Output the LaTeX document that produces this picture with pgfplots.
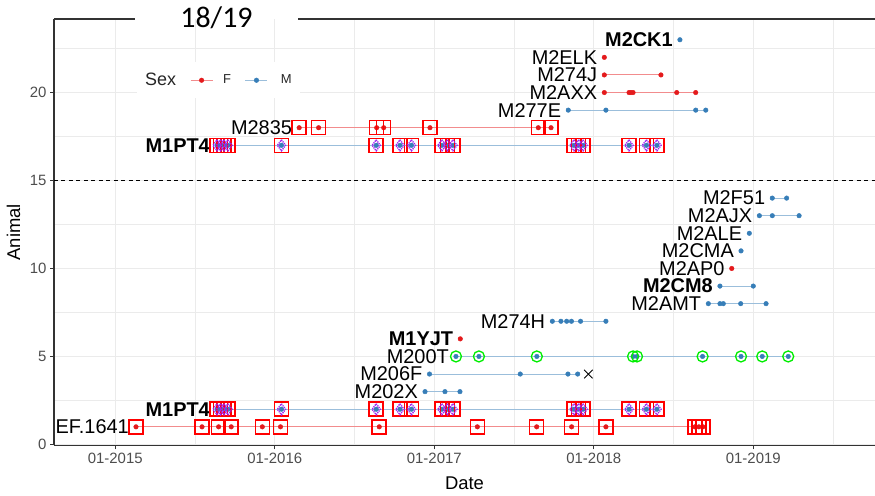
\documentclass[border=0pt]{standalone}
\usepackage{pgfplots}
\pgfplotsset{compat=1.18}
\usepackage{fontspec}
\setmainfont{Liberation Sans}
\newfontfamily\calibri{Carlito}
\definecolor{Fred}{HTML}{E41A1C}
\definecolor{Mblue}{HTML}{377EB8}
\colorlet{Fline}{Fred!50!white}
\colorlet{Mline}{Mblue!50!white}
\definecolor{gridc}{HTML}{EBEBEB}
\definecolor{tickc}{HTML}{4D4D4D}
\definecolor{axc}{HTML}{333333}
\definecolor{boxred}{HTML}{FF0000}
\definecolor{diam}{HTML}{A020F0}
\definecolor{grn}{HTML}{00EE00}
\pgfplotsset{
  Fser/.style={draw=Fline, line width=1bp, mark=*, mark size=2.3bp, mark options={fill=Fred, draw=Fred, solid, line width=0.4bp}},
  Mser/.style={draw=Mline, line width=1bp, mark=*, mark size=2.3bp, mark options={fill=Mblue, draw=Mblue, solid, line width=0.4bp}},
  boxes/.style={draw=boxred, only marks, mark=square, mark size=7bp, mark options={draw=boxred, line width=1.5bp, fill=none, solid}},
  diams/.style={draw=diam, only marks, mark=diamond, mark size=5.5bp, mark options={draw=diam, line width=1.4bp, dash pattern=on 1.2bp off 0.9bp, fill=none}},
  circs/.style={draw=grn, only marks, mark=o, mark size=5.5bp, mark options={draw=grn, line width=1.3bp, solid}},
}
\tikzset{
  lab/.style={anchor=east, xshift=-7bp, font=\fontsize{20}{20}\selectfont, text=black, inner sep=0pt},
  labb/.style={lab, font=\fontsize{20}{20}\selectfont\bfseries},
}
\begin{document}
\begin{tikzpicture}
\begin{axis}[
  name=ax,
  width=821bp, height=426.3bp, scale only axis,
  xmin=2014.616, xmax=2019.763, ymin=-0.05, ymax=24.18,
  axis lines=left, axis line style={-, draw=axc, line width=1.1bp},
  xtick={2015,2016,2017,2018,2019},
  xticklabels={01-2015,01-2016,01-2017,01-2018,01-2019},
  minor xtick={2015.5,2016.5,2017.5,2018.5,2019.5},
  ytick={0,5,10,15,20}, minor ytick={2.5,7.5,12.5,17.5,22.5},
  grid=both,
  major grid style={draw=gridc, line width=1.1bp},
  minor grid style={draw=gridc, line width=0.8bp},
  tick align=outside, major tick length=4bp, minor tick length=0pt,
  tick style={draw=axc, line width=1bp},
  ticklabel style={font=\fontsize{15}{15}\selectfont, text=tickc},
  /pgf/number format/assume math mode=true,
  xlabel={Date}, ylabel={Animal},
  label style={font=\fontsize{18.5}{18.5}\selectfont, text=black},
  xlabel style={at={(axis description cs:0.5,-0.089)}, anchor=center},
  ylabel style={at={(axis description cs:-0.0493,0.5)}, anchor=center},
  legend columns=-1,
  legend image code/.code={\draw[mark repeat=2,mark phase=2,#1] plot coordinates {(0bp,0bp)(11bp,0bp)(22bp,0bp)};},
  legend style={at={(0.1011,0.899)}, anchor=north west, draw=none, fill=white,
    font=\fontsize{13}{13}\selectfont, text=black!85, inner xsep=6bp, inner ysep=9bp,
    /tikz/column 1/.style={column sep=0bp},
    /tikz/column 2/.style={column sep=12bp},
    /tikz/column 3/.style={column sep=8bp},
    /tikz/column 4/.style={column sep=12bp},
    /tikz/column 5/.style={column sep=11bp}},
]
% dashed separator
\addplot[forget plot, black, line width=1bp, dash pattern=on 4bp off 3.5bp] coordinates {(2014.616,15) (2019.763,15)};

% series
\addplot[Fser, forget plot] coordinates {(2015.130,1)(2015.544,1)(2015.648,1)(2015.727,1)(2015.922,1)(2016.036,1)(2016.655,1)(2017.270,1)(2017.642,1)(2017.861,1)(2018.076,1)(2018.634,1)(2018.659,1)(2018.684,1)};
\addplot[Mser, forget plot] coordinates {(2015.638,2)(2015.660,2)(2015.682,2)(2015.707,2)(2016.042,2)(2016.636,2)(2016.785,2)(2016.857,2)(2017.048,2)(2017.082,2)(2017.117,2)(2017.876,2)(2017.905,2)(2017.933,2)(2018.221,2)(2018.330,2)(2018.396,2)};
\addplot[Mser, forget plot] coordinates {(2016.942,3)(2017.067,3)(2017.161,3)};
\addplot[Mser, forget plot] coordinates {(2016.970,4)(2017.539,4)(2017.838,4)(2017.899,4)};
\addplot[Mser, forget plot] coordinates {(2017.136,5)(2017.280,5)(2017.643,5)(2018.246,5)(2018.271,5)(2018.682,5)(2018.923,5)(2019.056,5)(2019.219,5)};
\addplot[Fser, forget plot] coordinates {(2017.163,6)};
\addplot[Mser, forget plot] coordinates {(2017.740,7)(2017.794,7)(2017.830,7)(2017.860,7)(2017.917,7)(2018.076,7)};
\addplot[Mser, forget plot] coordinates {(2018.718,8)(2018.791,8)(2018.812,8)(2018.921,8)(2019.080,8)};
\addplot[Mser, forget plot] coordinates {(2018.791,9)(2019.000,9)};
\addplot[Fser, forget plot] coordinates {(2018.865,10)};
\addplot[Mser, forget plot] coordinates {(2018.923,11)};
\addplot[Mser, forget plot] coordinates {(2018.975,12)};
\addplot[Mser, forget plot] coordinates {(2019.038,13)(2019.119,13)(2019.287,13)};
\addplot[Mser, forget plot] coordinates {(2019.119,14)(2019.209,14)};
\addplot[Mser, forget plot] coordinates {(2015.638,17)(2015.660,17)(2015.682,17)(2015.707,17)(2016.042,17)(2016.636,17)(2016.785,17)(2016.857,17)(2017.048,17)(2017.082,17)(2017.117,17)(2017.876,17)(2017.905,17)(2017.933,17)(2018.221,17)(2018.330,17)(2018.396,17)};
\addplot[Fser, forget plot] coordinates {(2016.153,18)(2016.275,18)(2016.639,18)(2016.683,18)(2016.973,18)(2017.652,18)(2017.732,18)};
\addplot[Mser, forget plot] coordinates {(2017.840,19)(2018.076,19)(2018.639,19)(2018.702,19)};
\addplot[Fser, forget plot] coordinates {(2018.066,20)(2018.221,20)(2018.233,20)(2018.246,20)(2018.520,20)(2018.639,20)};
\addplot[Fser, forget plot] coordinates {(2018.066,21)(2018.421,21)};
\addplot[Fser, forget plot] coordinates {(2018.066,22)};
\addplot[Mser, forget plot] coordinates {(2018.540,23)};

% overlays
\addplot[boxes, forget plot] coordinates {(2015.130,1)(2015.544,1)(2015.648,1)(2015.727,1)(2015.922,1)(2016.036,1)(2016.655,1)(2017.270,1)(2017.642,1)(2017.861,1)(2018.076,1)(2018.634,1)(2018.659,1)(2018.684,1)};
\addplot[boxes, forget plot] coordinates {(2015.638,2)(2015.660,2)(2015.682,2)(2015.707,2)(2016.042,2)(2016.636,2)(2016.785,2)(2016.857,2)(2017.048,2)(2017.082,2)(2017.117,2)(2017.876,2)(2017.905,2)(2017.933,2)(2018.221,2)(2018.330,2)(2018.396,2)};
\addplot[boxes, forget plot] coordinates {(2015.638,17)(2015.660,17)(2015.682,17)(2015.707,17)(2016.042,17)(2016.636,17)(2016.785,17)(2016.857,17)(2017.048,17)(2017.082,17)(2017.117,17)(2017.876,17)(2017.905,17)(2017.933,17)(2018.221,17)(2018.330,17)(2018.396,17)};
\addplot[boxes, forget plot] coordinates {(2016.153,18)(2016.275,18)(2016.639,18)(2016.683,18)(2016.973,18)(2017.652,18)(2017.732,18)};
\addplot[diams, forget plot] coordinates {(2015.638,2)(2015.660,2)(2015.682,2)(2015.707,2)(2016.042,2)(2016.636,2)(2016.785,2)(2016.857,2)(2017.048,2)(2017.082,2)(2017.117,2)(2017.876,2)(2017.905,2)(2017.933,2)(2018.221,2)(2018.330,2)(2018.396,2)};
\addplot[diams, forget plot] coordinates {(2015.638,17)(2015.660,17)(2015.682,17)(2015.707,17)(2016.042,17)(2016.636,17)(2016.785,17)(2016.857,17)(2017.048,17)(2017.082,17)(2017.117,17)(2017.876,17)(2017.905,17)(2017.933,17)(2018.221,17)(2018.330,17)(2018.396,17)};
\addplot[circs, forget plot] coordinates {(2017.136,5)(2017.280,5)(2017.643,5)(2018.246,5)(2018.271,5)(2018.682,5)(2018.923,5)(2019.056,5)(2019.219,5)};
\addplot[only marks, mark=x, mark size=6bp, mark options={draw=black, line width=0.9bp}, forget plot] coordinates {(2017.966,4)};

% labels
\node[lab] at (axis cs:2015.130,1) {EF.1641};
\node[labb] at (axis cs:2015.638,2) {M1PT4};
\node[lab] at (axis cs:2016.942,3) {M202X};
\node[lab] at (axis cs:2016.970,4) {M206F};
\node[lab] at (axis cs:2017.136,5) {M200T};
\node[labb] at (axis cs:2017.163,6) {M1YJT};
\node[lab] at (axis cs:2017.740,7) {M274H};
\node[lab] at (axis cs:2018.718,8) {M2AMT};
\node[labb] at (axis cs:2018.791,9) {M2CM8};
\node[lab] at (axis cs:2018.865,10) {M2AP0};
\node[lab] at (axis cs:2018.923,11) {M2CMA};
\node[lab] at (axis cs:2018.975,12) {M2ALE};
\node[lab] at (axis cs:2019.038,13) {M2AJX};
\node[lab] at (axis cs:2019.119,14) {M2F51};
\node[labb] at (axis cs:2015.638,17) {M1PT4};
\node[lab] at (axis cs:2016.153,18) {M2835};
\node[lab] at (axis cs:2017.840,19) {M277E};
\node[lab] at (axis cs:2018.066,20) {M2AXX};
\node[lab] at (axis cs:2018.066,21) {M274J};
\node[lab] at (axis cs:2018.066,22) {M2ELK};
\node[labb] at (axis cs:2018.540,23) {M2CK1};

% legend
\addlegendimage{empty legend}
\addlegendentry{\fontsize{18}{18}\selectfont Sex}
\addlegendimage{Fser}
\addlegendentry{F}
\addlegendimage{Mser}
\addlegendentry{M}
\end{axis}
\draw[axc, line width=1.1bp] (ax.north west) -- ([xshift=81bp]ax.north west);
\draw[axc, line width=1.1bp] ([xshift=244bp]ax.north west) -- (ax.north east);
\node[font=\calibri\fontsize{30}{30}\selectfont, text=black] at ([xshift=162.5bp,yshift=1bp]ax.north west) {18/19};
\pgfresetboundingbox
\path ([shift={(-54bp,-50bp)}]ax.south west) rectangle ([shift={(0bp,19bp)}]ax.north east);
\end{tikzpicture}
\end{document}
